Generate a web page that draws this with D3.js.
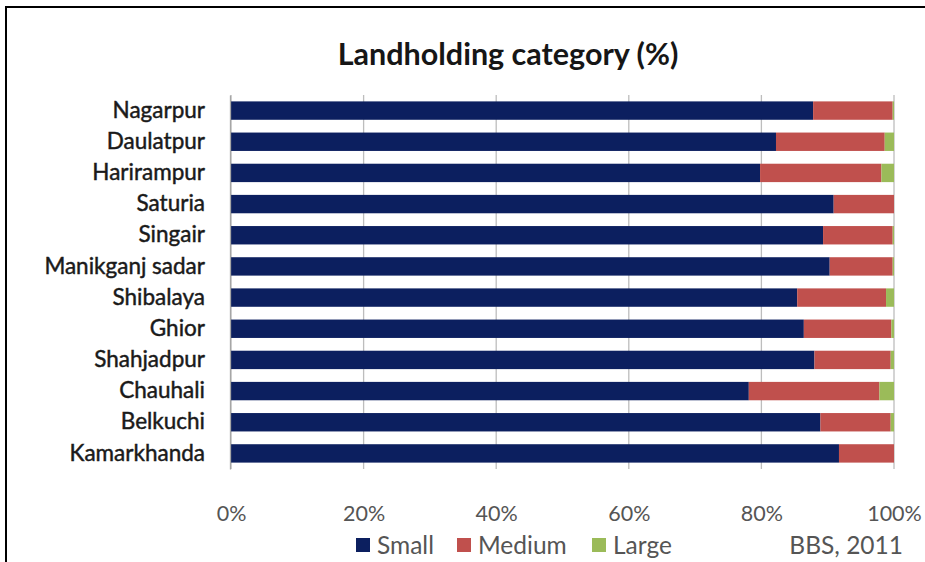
<!DOCTYPE html>
<html>
<head>
<meta charset="utf-8">
<script src="https://cdn.jsdelivr.net/npm/d3@7/dist/d3.min.js"></script>
<style>
  html, body { margin: 0; padding: 0; background: #fff; }
  svg { display: block; font-family: Lato, "Open Sans", sans-serif; }
</style>
</head>
<body>
<div id="chart"></div>
<script>
// Upazila names, top to bottom
const categories = ["Nagarpur", "Daulatpur", "Harirampur", "Saturia", "Singair",
  "Manikganj sadar", "Shibalaya", "Ghior", "Shahjadpur", "Chauhali", "Belkuchi", "Kamarkhanda"];

// Share of holdings by landholding class (%)
const small  = [87.8, 82.2, 79.8, 90.9, 89.3, 90.3, 85.4, 86.4, 88.0, 78.1, 88.9, 91.7];
const medium = [12.0, 16.4, 18.3,  9.1, 10.5,  9.5, 13.4, 13.2, 11.5, 19.7, 10.6,  8.3];
const large  = [ 0.2,  1.4,  1.9,  0.0,  0.2,  0.2,  1.2,  0.4,  0.5,  2.2,  0.5,  0.0];

const seriesNames = ["Small", "Medium", "Large"];
const colors = ["#0c1f5f", "#c0504d", "#9bbb59"];
const tickValues = [0, 20, 40, 60, 80, 100];

const W = 925, H = 562;
const plot = { left: 231, right: 894, top: 95, bottom: 469 };

const rows = categories.map((c, i) => ({ name: c, Small: small[i], Medium: medium[i], Large: large[i] }));
const stacked = d3.stack().keys(seriesNames)(rows);

const svg = d3.select("#chart").append("svg").attr("width", W).attr("height", H);

// outer frame (only the left and top edges fall inside the view)
svg.append("path")
  .attr("d", `M6,${H} V7 H${W}`)
  .attr("fill", "none").attr("stroke", "#000").attr("stroke-width", 2);

svg.append("text")
  .attr("x", 508).attr("y", 65)
  .attr("text-anchor", "middle")
  .attr("font-size", 30.5).attr("font-weight", 700).attr("fill", "#161616")
  .text("Landholding category (%)");

const x = d3.scaleLinear().domain([0, 100]).range([plot.left, plot.right]);
const y = d3.scaleBand().domain(categories).range([plot.top, plot.bottom])
  .paddingInner(0.41).paddingOuter(0.205);

// vertical gridlines
svg.append("g")
  .selectAll("line").data(tickValues).join("line")
  .attr("x1", d => x(d)).attr("x2", d => x(d))
  .attr("y1", plot.top).attr("y2", plot.bottom)
  .attr("stroke", "#bdbdbd").attr("stroke-width", 1.3);

// stacked bars
svg.append("g")
  .selectAll("g").data(stacked).join("g")
  .attr("fill", (d, i) => colors[i])
  .selectAll("rect").data(d => d).join("rect")
  .attr("x", d => x(d[0]))
  .attr("width", d => Math.max(0, x(d[1]) - x(d[0])))
  .attr("y", d => y(d.data.name))
  .attr("height", y.bandwidth());

// category axis
const yAxis = svg.append("g")
  .attr("transform", `translate(${plot.left - 1},0)`)
  .call(d3.axisLeft(y).tickSize(0).tickPadding(25));
yAxis.select(".domain").attr("stroke", "#a6a6a6").attr("stroke-width", 1.3);
yAxis.selectAll("text")
  .attr("font-family", "Lato, sans-serif")
  .attr("font-size", 22.5).attr("fill", "#1a1a1a")
  .attr("stroke", "#1a1a1a").attr("stroke-width", 0.45);

// value axis labels
const xAxis = svg.append("g")
  .attr("transform", `translate(0,${plot.bottom})`)
  .call(d3.axisBottom(x).tickValues(tickValues).tickFormat(d => d + "%").tickSize(0).tickPadding(37));
xAxis.select(".domain").remove();
xAxis.selectAll("text")
  .attr("font-family", "Lato, sans-serif")
  .attr("font-size", 21.5).attr("fill", "#555");

// legend
const legendX = [356, 457, 592];
const legend = svg.append("g");
seriesNames.forEach((s, i) => {
  legend.append("rect")
    .attr("x", legendX[i]).attr("y", 538).attr("width", 14).attr("height", 14)
    .attr("fill", colors[i]);
  legend.append("text")
    .attr("x", legendX[i] + 21).attr("y", 554)
    .attr("font-size", 24.5).attr("fill", "#555")
    .text(s);
});

svg.append("text")
  .attr("x", 903).attr("y", 554)
  .attr("text-anchor", "end")
  .attr("font-size", 24.5).attr("fill", "#555")
  .text("BBS, 2011");
</script>
</body>
</html>
